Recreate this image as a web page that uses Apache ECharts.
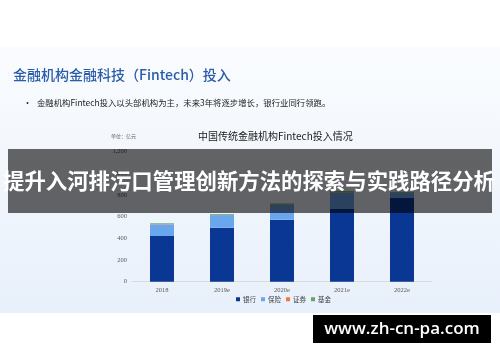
<!DOCTYPE html>
<html>
<head>
<meta charset="utf-8">
<script src="https://cdn.jsdelivr.net/npm/echarts@6/dist/echarts.min.js"></script>
<style>
html,body{margin:0;padding:0;background:#fff;}
#chart{width:500px;height:362px;}
</style>
</head>
<body>
<div id="chart"></div>
<script>
const categories = ['2018', '2019e', '2020e', '2021e', '2022e'];
const bank = [421, 498, 572, 670, 771];
const insurance = [108, 116, 135, 150, 46];
const securities = [3, 3, 4, 4, 3];
const fund = [6, 7, 9, 10, 8];
const seriesNames = ['银行', '保险', '证券', '基金'];
const yTicks = [0, 200, 400, 600, 800, 1000, 1200];

const CJK = '"Noto Sans CJK SC", "Noto Sans", sans-serif';
const SERIF = '"Liberation Serif", "DejaVu Serif", serif';
const colors = ['#0a3794', '#6aa6ee', '#ed7d31', '#5fa862'];

const chart = echarts.init(document.getElementById('chart'), null, {renderer: 'canvas'});

const mk = (name, data, i) => ({
  name: name, type: 'bar', stack: 'total', data: data, barWidth: 24,
  itemStyle: {color: colors[i]}, z: 2
});

chart.setOption({
  backgroundColor: '#ffffff',
  animation: false,
  color: colors,
  graphic: [
    {type: 'rect', z: -10, silent: true, shape: {x: 0, y: 47, width: 500, height: 266},
     style: {fill: new echarts.graphic.LinearGradient(0, 0, 0, 1, [
       {offset: 0, color: '#fafcfe'}, {offset: 1, color: '#e8f0fb'}])}},
    {type: 'text', z: 5, x: 13, y: 75, style: {text: '金融机构金融科技（Fintech）投入', font: '500 14px ' + CJK, fill: '#2a5caa', verticalAlign: 'middle'}},
    {type: 'text', z: 5, x: 23, y: 103, style: {text: '•', font: '9px ' + CJK, fill: '#333', verticalAlign: 'middle'}},
    {type: 'text', z: 5, x: 37, y: 103, style: {text: '金融机构Fintech投入以头部机构为主，未来3年将逐步增长，银行业同行领跑。', font: '8.4px ' + CJK, fill: '#222', verticalAlign: 'middle'}},
    {type: 'text', z: 5, x: 198, y: 136, style: {text: '中国传统金融机构Fintech投入情况', font: '10px ' + CJK, fill: '#1a1a1a', verticalAlign: 'middle'}},
    {type: 'text', z: 5, x: 111, y: 136, style: {text: '单位：亿元', font: '5px ' + CJK, fill: '#666', verticalAlign: 'middle'}},
    {type: 'rect', z: 100, silent: true, shape: {x: 8, y: 149, width: 484, height: 64}, style: {fill: 'rgba(0,0,0,0.6)'}},
    {type: 'text', z: 101, x: 249, y: 181, style: {text: '提升入河排污口管理创新方法的探索与实践路径分析', font: 'bold 21.4px ' + CJK, fill: '#ffffff', align: 'center', verticalAlign: 'middle'}},
    {type: 'rect', z: 100, silent: true, shape: {x: 313, y: 315, width: 178, height: 28}, style: {fill: '#000000'}},
    {type: 'text', z: 101, x: 402, y: 329, style: {text: 'www.zh-cn-pa.com', font: '600 17px "Open Sans", sans-serif', fill: '#ffffff', align: 'center', verticalAlign: 'middle'}}
  ],
  legend: {
    data: seriesNames, top: 291, left: 231,
    itemWidth: 4, itemHeight: 4, itemGap: 5, icon: 'rect',
    textStyle: {fontSize: 6.5, color: '#444', fontFamily: CJK, padding: [0, 0, 0, -2]}
  },
  grid: {left: 132, right: 68, top: 151.5, height: 130.2, containLabel: false},
  xAxis: {
    type: 'category', data: categories,
    axisLine: {lineStyle: {color: '#d9d9d9'}}, axisTick: {show: false},
    axisLabel: {fontSize: 6.5, color: '#595959', fontFamily: SERIF, margin: 5}
  },
  yAxis: {
    type: 'value', min: yTicks[0], max: yTicks[yTicks.length - 1], interval: 200,
    splitLine: {show: false}, axisLine: {show: false}, axisTick: {show: false},
    axisLabel: {fontSize: 6.5, color: '#595959', fontFamily: SERIF, margin: 5}
  },
  series: [
    mk(seriesNames[0], bank, 0),
    mk(seriesNames[1], insurance, 1),
    mk(seriesNames[2], securities, 2),
    mk(seriesNames[3], fund, 3)
  ]
});
</script>
</body>
</html>
